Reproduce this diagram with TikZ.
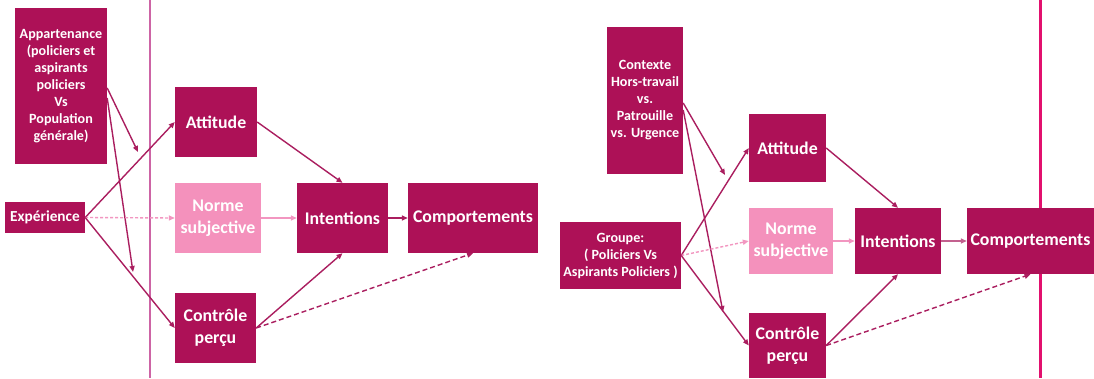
\documentclass[tikz,border=0pt]{standalone}
\usepackage{fontspec}
\setmainfont{Carlito}
\usetikzlibrary{arrows.meta}
\definecolor{boxc}{RGB}{173,17,87}
\definecolor{pinkc}{RGB}{244,145,188}
\definecolor{linkc}{RGB}{170,30,95}
\definecolor{softc}{RGB}{242,150,192}
\definecolor{sepL}{RGB}{205,100,165}
\definecolor{sepR}{RGB}{226,16,110}
\begin{document}
\begin{tikzpicture}[x=1pt,y=-1pt,
  box/.style={rectangle, fill=boxc, text=white, inner sep=0pt, align=center,
    font=\bfseries\fontsize{17.8}{22}\selectfont},
  smallbox/.style={box, font=\bfseries\fontsize{14.1}{17}\selectfont},
  softbox/.style={box, fill=pinkc},
  link/.style={draw=linkc, line width=1.4pt, -{Triangle[length=6pt,width=5pt]}},
  dlink/.style={link, dash pattern=on 5pt off 3pt},
  plink/.style={draw=softc, line width=1.4pt, -{Triangle[length=6pt,width=5pt]}},
  pdlink/.style={plink, dash pattern=on 3pt off 2pt}]
\useasboundingbox (0,0) rectangle (1094,378);

% separators
\draw[sepL, line width=1.5pt] (150,0) -- (150,378);
\draw[sepR, line width=3pt] (1040,0) -- (1040,378);

% ---- left model ----
\node[smallbox, minimum width=92pt, minimum height=156pt] (appL) at (61,86)
  {Appartenance\\(policiers et\\aspirants\\policiers\\Vs\\Population\\générale)};
\node[box, font=\bfseries\fontsize{15.3}{17}\selectfont, minimum width=80pt, minimum height=31pt] (expL) at (45,217.5) {Expérience};
\node[box, minimum width=82pt, minimum height=70pt] (attL) at (216,122) {Attitude};
\node[softbox, minimum width=86pt, minimum height=70pt] (normL) at (218,218) {Norme\\subjective};
\node[box, minimum width=81pt, minimum height=70pt] (ctrL) at (215.5,328) {Contrôle\\perçu};
\node[box, minimum width=91pt, minimum height=70pt] (intL) at (342.5,218) {Intentions};
\node[box, minimum width=130pt, minimum height=70pt] (compL) at (473,218) {Comportements};

\coordinate (mA) at (138,152);
\coordinate (mB) at (133,272);
\draw[link] (appL.east |- 0,88) -- (mA);
\draw[link] (appL.east |- 0,98) -- (mB);
\draw[link] (expL.east) -- (attL.west);
\draw[pdlink] (expL.east) -- (normL.west);
\draw[link] (expL.east) -- (ctrL.west);
\draw[link] (attL.east) -- (intL.north);
\draw[plink] (normL.east) -- (intL.west);
\draw[link] (ctrL.east) -- (intL.south);
\draw[dlink] (ctrL.east) -- (compL.south);
\draw[link] (intL.east) -- (compL.west);

% ---- right model ----
\node[smallbox, minimum width=76pt, minimum height=147pt] (ctxR) at (645,100.5)
  {Contexte\\Hors-travail\\vs.\\Patrouille\\vs. Urgence};
\node[smallbox, minimum width=121pt, minimum height=67pt] (grpR) at (620.5,255.5)
  {Groupe:\\( Policiers Vs\\Aspirants Policiers )};
\node[box, minimum width=77pt, minimum height=68pt] (attR) at (787.5,148) {Attitude};
\node[softbox, minimum width=84pt, minimum height=66pt] (normR) at (791,241) {Norme\\subjective};
\node[box, minimum width=77pt, minimum height=65pt] (ctrR) at (787.5,345.5) {Contrôle\\perçu};
\node[box, minimum width=86pt, minimum height=66pt] (intR) at (898,241) {Intentions};
\node[box, minimum width=127pt, minimum height=66pt] (compR) at (1030.5,241) {Comportements};

\coordinate (mC) at (725,175);
\coordinate (mD) at (723,312);
\draw[link] (ctxR.east |- 0,103) -- (mC);
\draw[link] (ctxR.east |- 0,110) -- (mD);
\draw[link] (grpR.east) -- (attR.west);
\draw[pdlink] (grpR.east) -- (normR.west);
\draw[link] (grpR.east) -- (ctrR.west);
\draw[link] (attR.east) -- (intR.north);
\draw[plink] (normR.east) -- (intR.west);
\draw[link] (ctrR.east) -- (intR.south);
\draw[dlink] (ctrR.east) -- (compR.south);
\draw[link, draw=linkc!70!white] (intR.east) -- (compR.west);
\end{tikzpicture}
\end{document}
